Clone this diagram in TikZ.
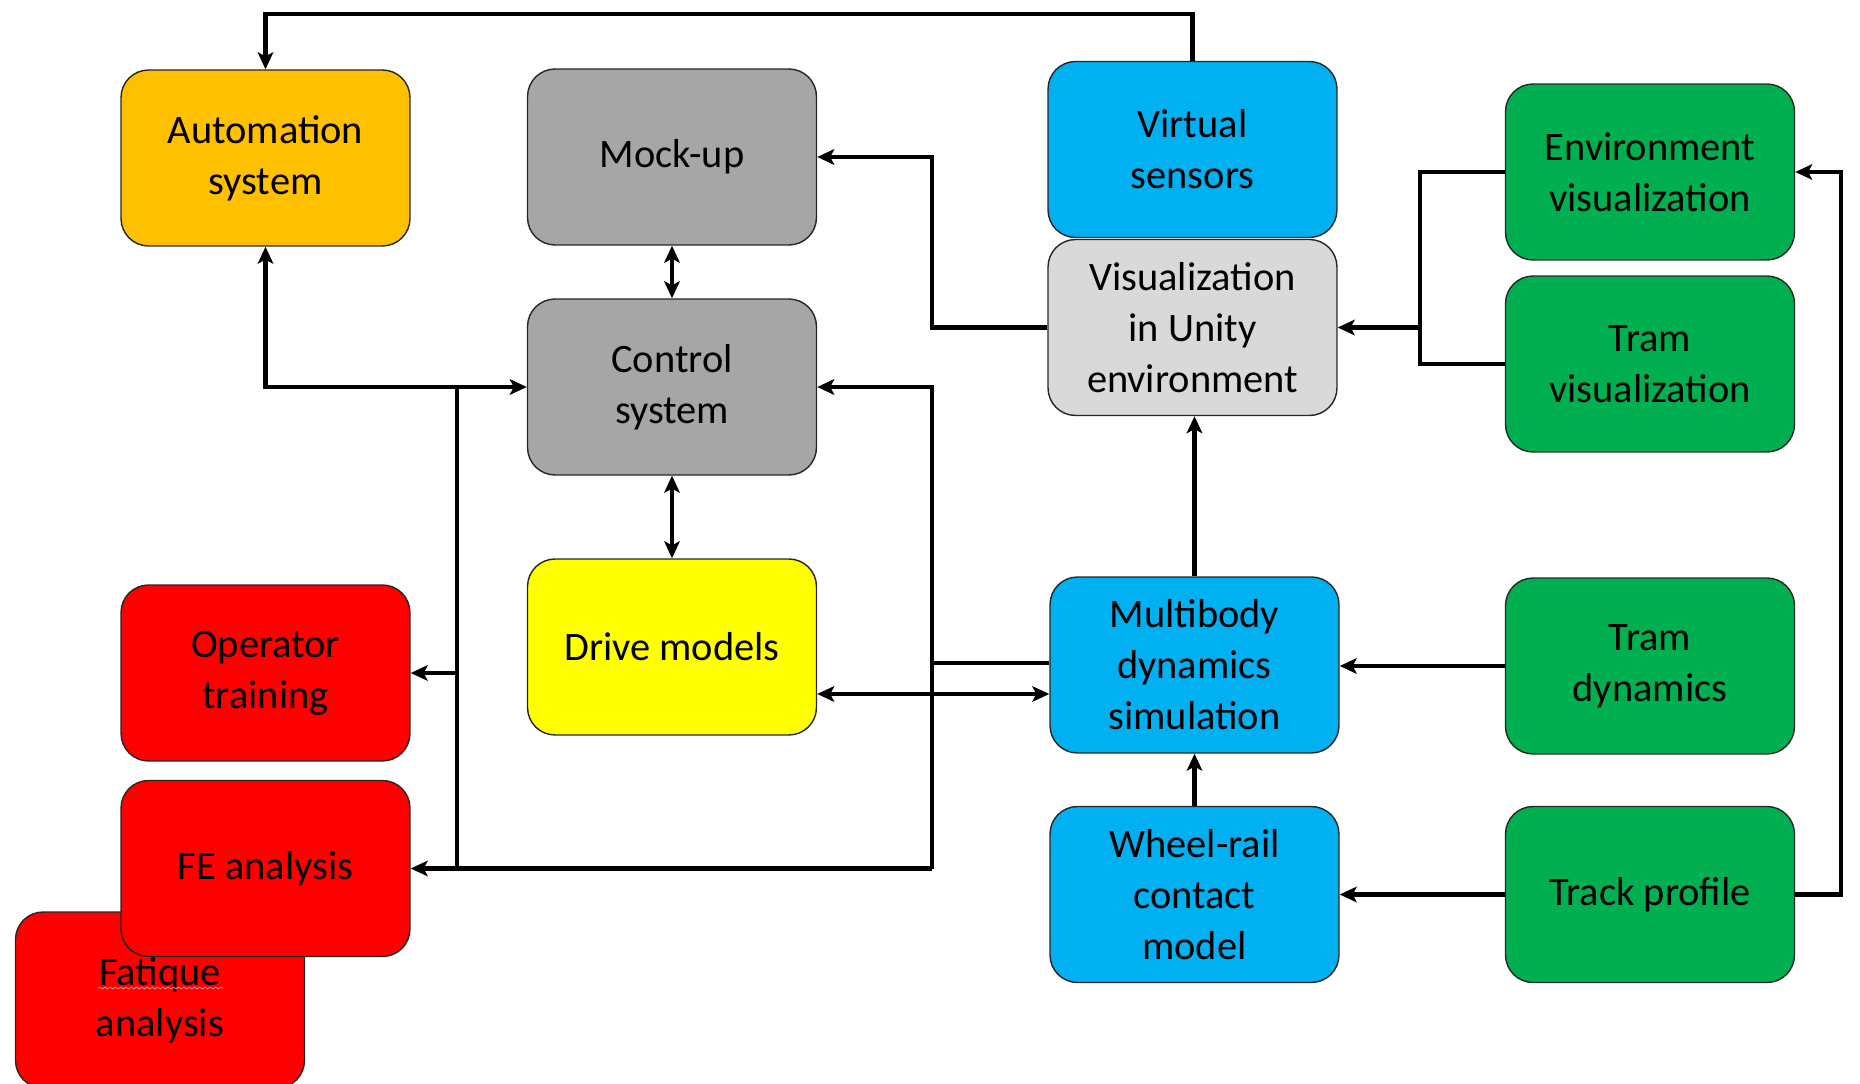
\documentclass[tikz,border=0pt]{standalone}
\usepackage{fontspec}
\setmainfont{Carlito}
\usetikzlibrary{arrows.meta,decorations.pathmorphing}
\definecolor{autoorange}{HTML}{FFC000}
\definecolor{mockgray}{HTML}{A6A6A6}
\definecolor{unitygray}{HTML}{D9D9D9}
\definecolor{simblue}{HTML}{00B0F0}
\definecolor{visgreen}{HTML}{00B050}
\definecolor{outred}{HTML}{FF0000}
\definecolor{drivey}{HTML}{FFFF00}
\tikzset{>={Stealth[length=0.34cm,width=0.31cm,inset=0.08cm]}}
\begin{document}
\begin{tikzpicture}[x=0.02cm,y=-0.02cm,
        box/.style={draw=black!85,line width=0.8pt,rounded corners=0.55cm,minimum width=5.78cm,minimum height=3.52cm,inner sep=0pt,align=center,font=\fontsize{23}{29}\selectfont},
        link/.style={line width=2.4pt},
        thicklink/.style={line width=2.9pt}]
        \useasboundingbox (0,0) rectangle (1860,1084);

        % boxes
        \node[box,fill=autoorange] (auto) at (265.5,158) {Automation\\system};
        \node[box,fill=mockgray] (mock) at (672,157) {Mock-up};
        \node[box,fill=mockgray] (ctrl) at (672,387) {Control\\system};
        \node[box,fill=drivey] (drive) at (672,647) {Drive models};
        \node[box,fill=simblue] (vsens) at (1192.5,149.5) {Virtual\\sensors};
        \node[box,fill=unitygray] (unity) at (1192.5,327.5) {Visualization\\in Unity\\environment};
        \node[box,fill=visgreen] (envvis) at (1650,172) {Environment\\visualization};
        \node[box,fill=visgreen] (tramvis) at (1650,364) {Tram\\visualization};
        \node[box,fill=simblue] (mbd) at (1194.5,665) {Multibody\\dynamics\\simulation};
        \node[box,fill=visgreen] (tramdyn) at (1650,666) {Tram\\dynamics};
        \node[box,fill=simblue] (wheel) at (1194.5,894.5) {Wheel-rail\\contact\\model};
        \node[box,fill=visgreen] (track) at (1650,894.5) {Track profile};
        \node[box,fill=outred] (oper) at (265.5,673) {Operator\\training};
        \node[box,fill=outred] (fatig) at (160,1000) {Fatique\\analysis};
        \draw[decorate,decoration={snake,amplitude=0.5pt,segment length=3pt},red!45!white,line width=0.5pt] (98,988) -- (223,988);
        \node[box,fill=outred] (fe) at (265.5,868.5) {FE analysis};

        \coordinate (busT) at (457,385);
        \coordinate (busB) at (457,868.5);
        \coordinate (rbT) at (932,385);
        \coordinate (rbB) at (932,868.5);
        \coordinate (dm) at (932,694);
        \coordinate (vj) at (1420,327.5);

        % connectors
        \draw[link,->] (vsens.north) -- (vsens.north |- 0,14) -| (auto.north);
        \draw[link,<->] (auto.south) |- (ctrl.west);
        \draw[link,<->] (mock.south) -- (ctrl.north);
        \draw[link,<->] (ctrl.south) -- (drive.north);
        \draw[link] (busT) -- (busB);
        \draw[link,->] (busT |- oper.east) -- (oper.east);
        \draw[link,->] (rbB) -- (fe.east);
        \draw[link,->] (rbB) |- (ctrl.east);
        \draw[link] (mbd.west |- 0,663) -- (rbT |- 0,663);
        \draw[link,<->] (drive.east |- dm) -- (mbd.west |- dm);
        \draw[link,->] (unity.west) -- (unity.west -| rbT) |- (mock.east);
        \draw[link,->] (mbd.north) -- (mbd.north |- unity.south);
        \draw[link] (envvis.west) -| (vj) |- (tramvis.west);
        \draw[thicklink,->] (vj) -- (unity.east);
        \draw[link,->] (tramdyn.west) -- (mbd.east |- tramdyn.west);
        \draw[link,->] (track.west) -- (wheel.east);
        \draw[link,->] (wheel.north) -- (mbd.south);
        \draw[link,->] (track.east) -- (1841,894.5) |- (envvis.east);
\end{tikzpicture}
\end{document}
